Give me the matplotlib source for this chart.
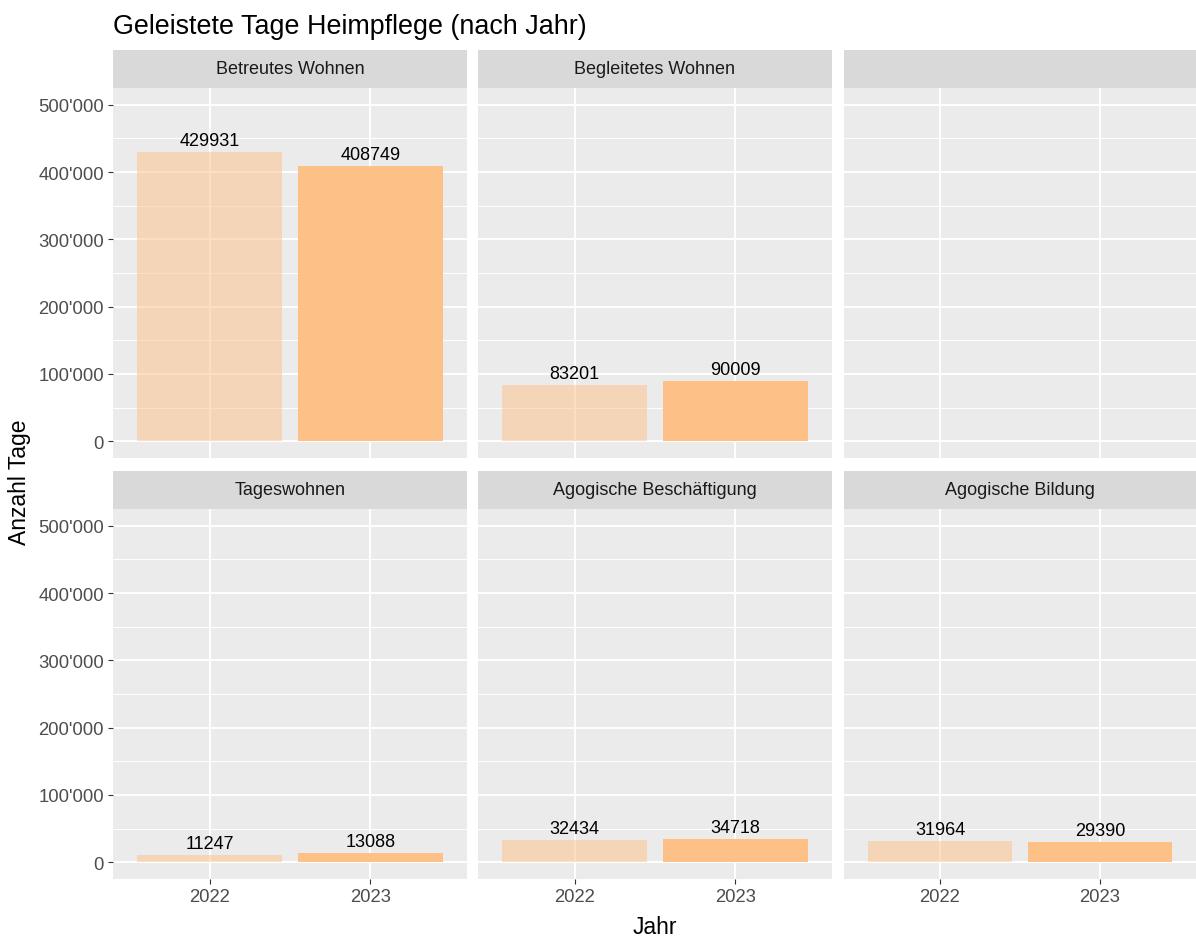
import numpy as np
import matplotlib
matplotlib.use("Agg")
import matplotlib.pyplot as plt
from matplotlib.ticker import FuncFormatter, MultipleLocator

plt.rcParams['font.family'] = ['Liberation Sans', 'DejaVu Sans']

# Daten
bereiche = ["Betreutes Wohnen", "Begleitetes Wohnen", "",
            "Tageswohnen", "Agogische Beschäftigung", "Agogische Bildung"]
jahre = ["2022", "2023"]
tage_2022 = [429931, 83201, np.nan, 11247, 32434, 31964]
tage_2023 = [408749, 90009, np.nan, 13088, 34718, 29390]

farbe = '#FDC086'
alphas = [0.5, 1.0]

W, H = 1196, 937
fig = plt.figure(figsize=(W / 100, H / 100), dpi=100)

def box(x0, y0, x1, y1):
    return [x0 / W, 1 - y1 / H, (x1 - x0) / W, (y1 - y0) / H]

cols = [(113, 467), (478, 832), (844, 1196)]
rows = [(51, 89, 459), (472, 510, 880)]

fmt = FuncFormatter(lambda v, p: "0" if v == 0 else "{:,.0f}".format(v).replace(",", "'"))

for i, name in enumerate(bereiche):
    r, c = divmod(i, 3)
    x0, x1 = cols[c]
    s0, s1, p1 = rows[r]
    # strip
    sax = fig.add_axes(box(x0, s0, x1, s1))
    sax.set_facecolor('#D9D9D9')
    sax.set_xticks([]); sax.set_yticks([])
    for sp in sax.spines.values():
        sp.set_visible(False)
    sax.text(0.5, 0.5, name, ha='center', va='center', fontsize=13,
             color='#1A1A1A', transform=sax.transAxes)

    ax = fig.add_axes(box(x0, s1, x1, p1))
    ax.set_facecolor('#EBEBEB')
    for sp in ax.spines.values():
        sp.set_visible(False)
    ax.set_axisbelow(True)
    ax.set_xlim(-0.6, 1.6)
    ax.set_ylim(-25000, 525000)
    ax.yaxis.set_major_locator(MultipleLocator(100000))
    ax.yaxis.set_minor_locator(MultipleLocator(50000))
    ax.yaxis.set_major_formatter(fmt)
    ax.set_xticks(range(len(jahre)))
    ax.set_xticklabels(jahre)
    ax.grid(True, which='major', color='white', lw=1.4)
    ax.grid(True, which='minor', axis='y', color='white', lw=0.7)
    ax.tick_params(which='minor', length=0)
    ax.tick_params(which='major', length=3.6, width=0.8, color='#333333',
                   labelsize=13.3, labelcolor='#4D4D4D', pad=3)
    if c != 0:
        ax.tick_params(axis='y', which='major', length=0, labelleft=False)
    if r == 0:
        ax.tick_params(axis='x', length=0, labelbottom=False)

    werte = [tage_2022[i], tage_2023[i]]
    for j, v in enumerate(werte):
        if np.isnan(v):
            continue
        ax.bar(j, v, width=0.9, color=farbe, alpha=alphas[j], lw=0)
        ax.annotate(str(int(v)), (j, v), xytext=(0, 5), textcoords='offset points',
                    ha='center', va='baseline', fontsize=13, color='black')

fig.text(113 / W, 1 - 34 / H, "Geleistete Tage Heimpflege (nach Jahr)",
         ha='left', va='baseline', fontsize=19.4, color='black')
fig.text(655 / W, 1 - 934 / H, "Jahr", ha='center', va='baseline',
         fontsize=16.5, color='black')
fig.text(20 / W, 1 - 482 / H, "Anzahl Tage", ha='center', va='center',
         rotation=90, fontsize=16.5, color='black')

fig.savefig("out.png", dpi=100)
